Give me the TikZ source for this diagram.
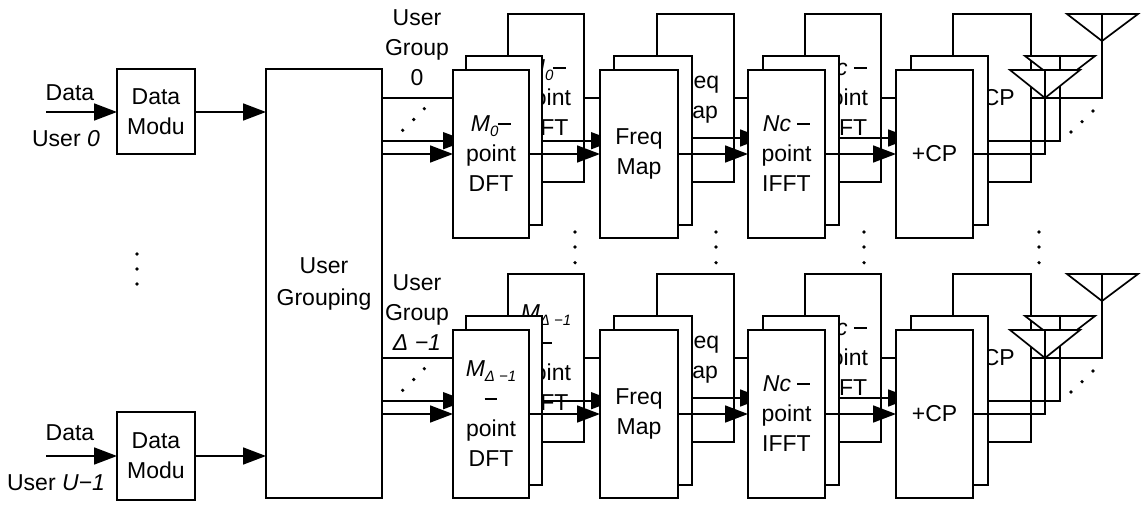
\documentclass[tikz,border=0pt]{standalone}
\usepackage{fontspec}
\setmainfont{Liberation Sans}
\usetikzlibrary{arrows.meta}
\newcommand\subsc[1]{\raisebox{-0.4ex}{\fontsize{15}{15}\selectfont\itshape #1}}
\newcommand\dash{\rule[0.3em]{0.55em}{0.08em}}
\tikzset{
  x=1pt,y=-1pt,
  line/.style={draw=black,line width=1.7pt},
  arr/.style={line,-{Triangle[length=23pt,width=17pt]}},
  box/.style={line,fill=white,rectangle,inner sep=0pt,outer sep=0pt,align=center,
    font=\fontsize{23}{30}\selectfont,text=black},
  label/.style={inner sep=0pt,align=center,font=\fontsize{23}{30}\selectfont},
  dotm/.style={circle,fill=black,minimum size=3.6pt,inner sep=0pt},
  ant/.style={line,fill=white,line join=miter},
}
% #1 suffix, #2 DFT text, #3 IFFT text
\newcommand\chain[3]{%
  % back boxes
  \node[box,minimum width=76pt,minimum height=168pt] (d2#1) at (546,98) {#2};
  \node[box,minimum width=77pt,minimum height=168pt] (f2#1) at (695.5,98) {Freq\\Map};
  \node[box,minimum width=76pt,minimum height=168pt] (i2#1) at (843,98) {#3};
  \node[box,minimum width=78pt,minimum height=168pt] (c2#1) at (992,98) {+CP};
  \draw[line] (grp.east |- 0,98) -- (d2#1.west |- 0,98);
  \draw[line] (d2#1.east |- 0,98) -- (f2#1.west |- 0,98);
  \draw[line] (f2#1.east |- 0,98) -- (i2#1.west |- 0,98);
  \draw[line] (i2#1.east |- 0,98) -- (c2#1.west |- 0,98);
  % middle boxes
  \node[box,minimum width=76pt,minimum height=169pt] (d1#1) at (504,140.5) {};
  \node[box,minimum width=78pt,minimum height=169pt] (f1#1) at (653,140.5) {};
  \node[box,minimum width=76pt,minimum height=169pt] (i1#1) at (801,140.5) {};
  \node[box,minimum width=77pt,minimum height=169pt] (c1#1) at (949.5,140.5) {};
  \draw[arr] (grp.east |- 0,140.7) -- (d1#1.west |- 0,140.7);
  \draw[arr] (d1#1.east |- 0,140.7) -- (f1#1.west |- 0,140.7);
  \draw[arr] (f1#1.east |- 0,138) -- (i1#1.west |- 0,138);
  \draw[arr] (i1#1.east |- 0,138) -- (c1#1.west |- 0,138);
  % front boxes
  \node[box,minimum width=76pt,minimum height=168.5pt] (d0#1) at (491,154) {#2};
  \node[box,minimum width=78pt,minimum height=168.5pt] (f0#1) at (639,154) {Freq\\Map};
  \node[box,minimum width=77pt,minimum height=168.5pt] (i0#1) at (786.5,154) {#3};
  \node[box,minimum width=77pt,minimum height=168.5pt] (c0#1) at (934.5,154) {+CP};
  \draw[arr] (grp.east |- 0,154) -- (d0#1.west |- 0,154);
  \draw[arr] (d0#1.east |- 0,154) -- (f0#1.west |- 0,154);
  \draw[arr] (f0#1.east |- 0,154) -- (i0#1.west |- 0,154);
  \draw[arr] (i0#1.east |- 0,154) -- (c0#1.west |- 0,154);
  % antennas: each white triangle hides what lies behind it, then its own feed
  \coordinate (a2#1) at (1102,14);
  \coordinate (a1#1) at (1060,56);
  \coordinate (a0#1) at (1045,70);
  \draw[ant] (1067,14) -- (1138,14) -- (1102,41) -- cycle;
  \draw[line] (c2#1.east |- 0,98) -| (a2#1);
  \draw[ant] (1025,56) -- (1095,56) -- (1060,83) -- cycle;
  \draw[line] (c1#1.east |- 0,140.7) -| (a1#1);
  \draw[ant] (1010,70) -- (1080,70) -- (1045,98) -- cycle;
  \draw[line] (c0#1.east |- 0,154) -| (a0#1);
  % dots
  \node[dotm] (p1#1) at (402.7,130.3) {};
  \node[dotm] (p2#1) at (413.7,119.5) {};
  \node[dotm] (p3#1) at (424.3,108.7) {};
  \node[dotm] (q1#1) at (1071,132) {};
  \node[dotm] (q2#1) at (1082,121.7) {};
  \node[dotm] (q3#1) at (1093,111) {};
}
\begin{document}
\begin{tikzpicture}
\useasboundingbox (0,0) rectangle (1143,508);
\fill[white] (0,0) rectangle (1143,508);
% left part
\node[box,minimum width=78pt,minimum height=85pt] (m0) at (156,111.5) {Data\\Modu};
\node[box,minimum width=78pt,minimum height=88pt] (m1) at (156,456) {Data\\Modu};
\node[box,minimum width=116pt,minimum height=429pt] (grp) at (324,283.5) {User\\[2pt]Grouping};
\coordinate (in0) at (46,112);
\coordinate (in1) at (46,456);
\draw[arr] (in0) -- (m0.west |- in0);
\draw[arr] (in1) -- (m1.west |- in1);
\draw[arr] (m0.east |- in0) -- (grp.west |- in0);
\draw[arr] (m1.east |- in1) -- (grp.west |- in1);
\node[label] (ld0) at (70,93) {Data};
\node[label] (ld1) at (70,433) {Data};
\node[label] (lu0) at (66,139) {User \textit{0}};
\node[label] (lu1) at (56,483) {User \textit{U−1}};
\node[dotm] (v1) at (137,254) {};
\node[dotm] (v2) at (137,269) {};
\node[dotm] (v3) at (137,284) {};
% chains
\chain{a}{\textit{M}\subsc{0}\dash\\point\\DFT}{\textit{Nc} \dash\\point\\IFFT}
\begin{scope}[yshift=-260pt]
\chain{b}{\textit{M}\subsc{Δ −1}\\\dash\\point\\DFT}{\textit{Nc} \dash\\point\\IFFT}
\end{scope}
% group labels
\node[label] (ga) at (417,47.5) {User\\Group\\0};
\node[label] (gb) at (417,313) {User\\Group\\\textit{Δ −1}};
% vertical dots between groups
\foreach \x/\n in {575/a,716/b,864/c,1039/d}{
  \node[dotm] (w1\n) at (\x,232) {};
  \node[dotm] (w2\n) at (\x,247) {};
  \node[dotm] (w3\n) at (\x,262.7) {};
}
\end{tikzpicture}
\end{document}
